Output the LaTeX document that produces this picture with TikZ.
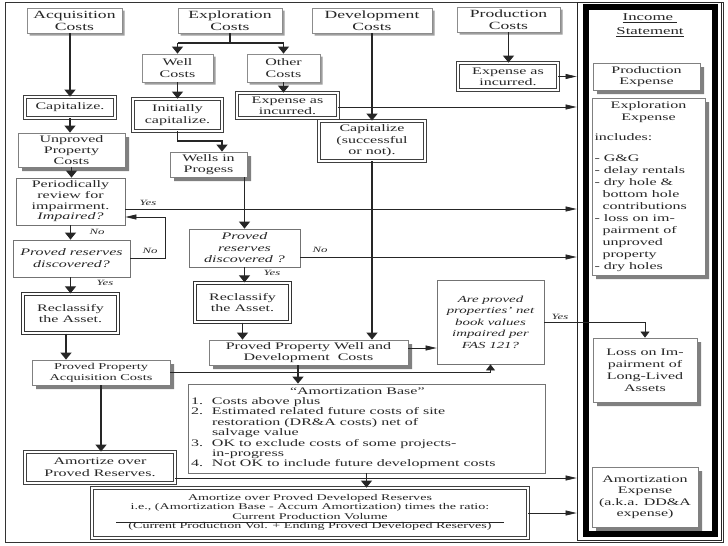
\documentclass[tikz,border=0pt]{standalone}
\usepackage{fontspec}
\setmainfont{Liberation Serif}[FakeStretch=1.6]
\usetikzlibrary{arrows.meta}
\newcommand{\boxshadow}[6]{% x1 y1 x2 y2 depth colour
  \fill[#6] (#3+0.4,#2+#5) -- (#3+#5,#2+#5) -- (#3+#5,#4+#5) -- (#1+#5,#4+#5) -- (#1+#5,#4+0.4) -- (#3+0.4,#4+0.4) -- cycle;}
\begin{document}
\tikzset{
  base/.style={rectangle, inner sep=0pt, align=center, text=black!85, font=\fontsize{10}{11.5}\selectfont, fill=white},
  costbox/.style={base, draw=black!45, line width=0.8pt},
  shbox/.style={base, draw=black!50, line width=0.8pt},
  plainbox/.style={base, draw=black!55, line width=0.8pt},
  dblbox/.style={base, draw=black!75, line width=0.8pt, double=white, double distance=1.6pt},
  thickdbl/.style={base, draw=black!80, line width=1.3pt, double=white, double distance=1.6pt},
  conn/.style={draw=black!85, line width=1.2pt},
  thinln/.style={draw=black!85, line width=0.7pt},
  va/.style={conn, -{Triangle[length=7pt,width=11pt]}},
  ha/.style={thinln, -{Triangle[length=11pt,width=5pt]}},
  vat/.style={thinln, -{Triangle[length=6pt,width=9pt]}},
  lbl/.style={inner sep=0pt, text=black!85, font=\fontsize{8}{9}\selectfont\itshape},
  shadowcol/.style={fill=black!50},
  lightshadowcol/.style={fill=black!38}
}
\begin{tikzpicture}[x=1pt,y=-1pt]
\useasboundingbox (0,0) rectangle (728,546);
\node[draw=black!80,line width=1pt,minimum width=718pt,minimum height=540pt,inner sep=0pt] (frame) at (364,272) {};

% shadows of the boxes
\boxshadow{593}{63}{700}{90}{4}{shadowcol}
\boxshadow{592}{98}{705}{275}{4}{shadowcol}
\boxshadow{593}{338}{697}{402}{4}{shadowcol}
\boxshadow{592}{467}{698}{527}{4}{shadowcol}
\boxshadow{18}{133}{125}{167}{4}{shadowcol}
\boxshadow{32}{360}{170}{385}{4}{shadowcol}
\boxshadow{170}{152}{247}{177}{4}{shadowcol}
\boxshadow{209}{340}{408}{365}{4}{shadowcol}
\boxshadow{27}{8}{122}{33}{2.5}{lightshadowcol}
\boxshadow{178}{8}{282}{33}{2.5}{lightshadowcol}
\boxshadow{312}{8}{432}{33}{2.5}{lightshadowcol}
\boxshadow{457}{7}{560}{32}{2.5}{lightshadowcol}
\boxshadow{142}{54}{213}{82}{2.5}{lightshadowcol}
\boxshadow{247}{54}{320}{82}{2.5}{lightshadowcol}

% income statement panel
\node[draw=black!85,line width=0.8pt,minimum width=144pt,minimum height=538pt,inner sep=0pt] (income) at (649,271) {};
\node[draw=black,line width=6pt,minimum width=129pt,minimum height=527pt,inner sep=0pt] (incframe) at (650.5,270.75) {};
\node[base,fill=none,font=\fontsize{10.5}{14}\selectfont] (inctitle) at (650,25) {\underline{Income\ }\\\underline{Statement}};
\node[shbox,minimum width=107pt,minimum height=27pt] (prodexp) at (646.5,76.5) {Production\\Expense};
\node[shbox,minimum width=113pt,minimum height=177pt,font=\fontsize{10}{12}\selectfont] (explexp) at (648.5,186.5) {\parbox{108pt}{\centering Exploration\\Expense\par\vspace{8pt}\raggedright includes:\par\vspace{9pt}- G\&G\\- delay rentals\\- dry hole \&\\\hspace*{8pt}bottom hole\\\hspace*{8pt}contributions\\- loss on im-\\\hspace*{8pt}pairment of\\\hspace*{8pt}unproved\\\hspace*{8pt}property\\- dry holes}};
\node[shbox,minimum width=104pt,minimum height=64pt,font=\fontsize{10}{12}\selectfont] (loss) at (645,370) {Loss on Im-\\pairment of\\Long-Lived\\Assets};
\node[shbox,minimum width=106pt,minimum height=60pt,font=\fontsize{10}{11.5}\selectfont] (amexp) at (645,497) {Amortization\\Expense\\(a.k.a. DD\&A\\expense)};

% top row
\node[costbox,minimum width=95pt,minimum height=25pt,font=\fontsize{11}{12}\selectfont] (acq) at (74.5,20.5) {Acquisition\\Costs};
\node[costbox,minimum width=104pt,minimum height=25pt,font=\fontsize{11}{12}\selectfont] (expl) at (230,20.5) {Exploration\\Costs};
\node[costbox,minimum width=120pt,minimum height=25pt,font=\fontsize{11}{12}\selectfont] (dev) at (372,20.5) {Development\\Costs};
\node[costbox,minimum width=103pt,minimum height=25pt,font=\fontsize{11}{12}\selectfont] (prod) at (508.5,19.5) {Production\\Costs};

\node[costbox,minimum width=71pt,minimum height=28pt] (well) at (177.5,68) {Well\\Costs};
\node[costbox,minimum width=73pt,minimum height=28pt] (other) at (283.5,68) {Other\\Costs};

\node[dblbox,minimum width=90pt,minimum height=21pt] (cap1) at (70,107.5) {Capitalize.};
\node[dblbox,minimum width=89pt,minimum height=32pt] (init) at (177.5,115) {Initially\\capitalize.};
\node[dblbox,minimum width=101pt,minimum height=25pt,font=\fontsize{10}{11}\selectfont] (exp1) at (287.5,105.5) {Expense as\\incurred.};
\node[dblbox,minimum width=106pt,minimum height=40pt] (capdev) at (372,141) {Capitalize\\(successful\\or not).};
\node[dblbox,minimum width=100pt,minimum height=27pt,font=\fontsize{10}{11}\selectfont] (exp2) at (508,76.5) {Expense as\\incurred.};

% left column
\node[shbox,minimum width=107pt,minimum height=34pt,font=\fontsize{10}{11}\selectfont] (unproved) at (71.5,150) {Unproved\\Property\\Costs};
\node[plainbox,minimum width=109pt,minimum height=47pt,font=\fontsize{10}{10.7}\selectfont] (periodic) at (70.5,201.5) {Periodically\\review for\\impairment.\\\textit{Impaired?}};
\node[plainbox,minimum width=117pt,minimum height=37pt,font=\fontsize{10}{12}\selectfont\itshape] (prd1) at (71.5,258.5) {Proved reserves\\discovered?};
\node[thickdbl,minimum width=95pt,minimum height=39pt] (reclass1) at (70.5,313.5) {Reclassify\\the Asset.};
\node[shbox,minimum width=138pt,minimum height=25pt,font=\fontsize{9}{11}\selectfont] (ppac) at (101,372.5) {Proved Property\\Acquisition Costs};
\node[dblbox,minimum width=150pt,minimum height=31pt] (amort1) at (100,467.5) {Amortize over\\Proved Reserves.};

% middle column
\node[shbox,minimum width=77pt,minimum height=25pt] (wip) at (208.5,164.5) {Wells in\\Progess};
\node[plainbox,minimum width=111pt,minimum height=38pt,font=\fontsize{10}{11.5}\selectfont\itshape] (prd2) at (244.5,248) {Proved\\reserves\\discovered ?};
\node[thickdbl,minimum width=95pt,minimum height=39pt] (reclass2) at (242.5,302.5) {Reclassify\\the Asset.};
\node[shbox,minimum width=199pt,minimum height=25pt] (ppwdc) at (308.5,352.5) {Proved Property Well and\\Development\ \ Costs};
\node[plainbox,minimum width=107pt,minimum height=84pt,font=\fontsize{9.3}{11.5}\selectfont\itshape] (arep) at (490.5,322) {Are proved\\properties' net\\book values\\impaired per\\FAS 121?};

\node[plainbox,minimum width=357pt,minimum height=89pt,font=\fontsize{10}{10.4}\selectfont] (amortbase) at (366.5,428.5) {\begin{tabular}{@{}p{21pt}@{}p{330pt}@{}}
\multicolumn{2}{@{}l@{}}{\hspace*{99pt}``Amortization Base''}\\
1. & Costs above plus\\
2. & Estimated related future costs of site\\
 & restoration (DR\&A costs) net of\\
 & salvage value\\
3. & OK to exclude costs of some projects-\\
 & in-progress\\
4. & Not OK to include future development costs
\end{tabular}};

\node[dblbox,minimum width=436pt,minimum height=50pt,font=\fontsize{8.8}{9.2}\selectfont] (amortdev) at (310,513) {\setlength{\tabcolsep}{12pt}\setlength{\arrayrulewidth}{0.6pt}\begin{tabular}{c}
Amortize over Proved Developed Reserves\\
i.e., (Amortization Base - Accum Amortization) times the ratio:\\
Current Production Volume\\ \hline
(Current Production Vol. + Ending Proved Developed Reserves)
\end{tabular}};

% labels
\node[lbl] (l1) at (148,203) {Yes};
\node[lbl] (l2) at (97,232) {No};
\node[lbl] (l3) at (150,251) {No};
\node[lbl] (l4) at (105,283) {Yes};
\node[lbl] (l5) at (320,250) {No};
\node[lbl] (l6) at (272,273) {Yes};
\node[lbl] (l7) at (560,317) {Yes};

% connectors
\coordinate (brY) at (0,43);
\draw[conn] (expl.south) -- (expl.south |- brY);
\draw[conn] (well.north |- brY) -- (other.north |- brY);
\draw[va] (well.north |- brY) -- (well.north);
\draw[va] (other.north |- brY) -- (other.north);

\draw[va] (cap1.north |- acq.south) -- (cap1.north);
\draw[va] (cap1.south) -- (cap1.south |- unproved.north);
\draw[va] (unproved.south) -- (unproved.south |- periodic.north);
\draw[va] (periodic.south) -- (periodic.south |- prd1.north);
\draw[va] (periodic.south |- prd1.south) -- (periodic.south |- reclass1.north);
\coordinate (x66) at (66,0);
\draw[va] (reclass1.south -| x66) -- (ppac.north -| x66);
\draw[va] (ppac.south) -- (ppac.south |- amort1.north);

\draw[va] (well.south) -- (well.south |- init.north);
\coordinate (c1) at (222,141);
\draw[va] (init.south) |- (c1) -- (c1 |- wip.north);
\draw[va] (wip.south -| prd2.north) -- (prd2.north);
\draw[va] (prd2.south) -- (prd2.south |- reclass2.north);
\draw[va] (reclass2.south) -- (reclass2.south |- ppwdc.north);
\draw[va] (other.south) -- (other.south |- exp1.north);
\draw[va] (dev.south) -- (capdev.north);
\draw[va] (capdev.south) -- (capdev.south |- ppwdc.north);
\draw[va] (prod.south) -- (prod.south |- exp2.north);
\coordinate (x298) at (298,0);
\draw[va] (ppwdc.south -| x298) -- (amortbase.north -| x298);
\draw[va] (amortbase.south) -- (amortbase.south |- amortdev.north);

\draw[ha] (exp2.east) -- (exp2.east -| income.west);
\coordinate (y107) at (0,107);
\draw[ha] (exp1.east |- y107) -- (income.west |- y107);
\coordinate (y209) at (0,209);
\draw[ha] (periodic.east |- y209) -- (income.west |- y209);
\coordinate (loopc) at (165,217);
\draw[ha] (prd1.east) -| (loopc) -- (periodic.east |- loopc);
\coordinate (y257) at (0,257);
\draw[ha] (prd2.east |- y257) -- (income.west |- y257);
\coordinate (y348) at (0,348);
\draw[ha] (ppwdc.east |- y348) -- (arep.west |- y348);
\draw[vat] (ppac.east) -| (arep.south);
\draw[vat] (arep.east) -| (loss.north);
\coordinate (y478) at (0,478);
\draw[ha] (amort1.east |- y478) -- (income.west |- y478);
\draw[ha] (amortdev.east) -- (amortdev.east -| income.west);
\end{tikzpicture}
\end{document}
